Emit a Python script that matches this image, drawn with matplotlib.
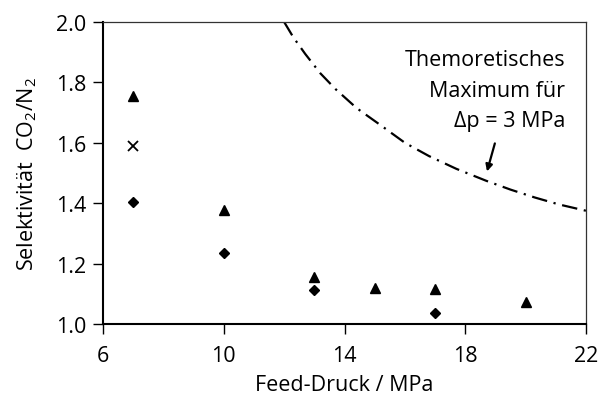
import matplotlib
matplotlib.use("Agg")
import matplotlib.pyplot as plt

plt.rcParams["font.family"] = ["Open Sans", "DejaVu Sans"]
plt.rcParams["mathtext.fontset"] = "custom"
plt.rcParams["mathtext.rm"] = "Open Sans"
plt.rcParams["mathtext.it"] = "Open Sans"

# Data
tri_x = [7, 10, 13, 15, 17, 20]
tri_y = [1.756, 1.376, 1.155, 1.118, 1.115, 1.074]
dia_x = [7, 10, 13, 17]
dia_y = [1.404, 1.234, 1.113, 1.036]
cross_x = [7]
cross_y = [1.588]

# Theoretical maximum curve
max_x = [12.0, 12.3, 12.7, 13.2, 13.7, 14.4, 15.2, 16.0, 16.8, 17.7, 18.7, 19.5, 20.3, 21.1, 22.0]
max_y = [2.000, 1.950, 1.894, 1.830, 1.778, 1.715, 1.658, 1.600, 1.556, 1.514, 1.474, 1.445, 1.419, 1.396, 1.375]

FS = 15.5

fig = plt.figure(figsize=(6.0, 4.02), dpi=100)
ax = fig.add_axes([0.1717, 0.1915, 0.805, 0.7513])

ax.plot(max_x, max_y, color="black", linestyle=(0, (7, 3, 1, 3)), linewidth=1.6)
ax.plot(tri_x, tri_y, "^", color="black", markersize=7.5, linestyle="none")
ax.plot(dia_x, dia_y, "D", color="black", markersize=5.5, linestyle="none")
ax.plot(cross_x, cross_y, "x", color="black", markersize=6.5, markeredgewidth=1.3, linestyle="none")

ax.set_xlim(6, 22)
ax.set_ylim(1.0, 2.0)
ax.set_xticks([6, 10, 14, 18, 22])
ax.set_yticks([1.0, 1.2, 1.4, 1.6, 1.8, 2.0])
ax.set_yticklabels(["1.0", "1.2", "1.4", "1.6", "1.8", "2.0"])

for side in ["left", "bottom"]:
    ax.spines[side].set_linewidth(1.5)
    ax.spines[side].set_color("black")
for side in ["top", "right"]:
    ax.spines[side].set_linewidth(0.9)
    ax.spines[side].set_color("#333333")

ax.tick_params(axis="both", direction="out", length=7, width=1.0, labelsize=FS, color="black")
ax.tick_params(axis="x", pad=8)
ax.tick_params(axis="y", pad=5)

ax.set_xlabel("Feed-Druck / MPa", fontsize=FS, labelpad=6)
ax.set_ylabel("Selektivität  CO$_2$/N$_2$", fontsize=FS, labelpad=12)

ax.text(21.3, 1.91, "Themoretisches\nMaximum für\nΔp = 3 MPa",
        ha="right", va="top", multialignment="right", fontsize=FS, linespacing=1.6)
ax.annotate("", xy=(18.72, 1.505), xytext=(18.98, 1.598),
            arrowprops=dict(arrowstyle="-|>", color="black", lw=1.6,
                            mutation_scale=10, shrinkA=0, shrinkB=0))

fig.savefig("out.png", dpi=100)
